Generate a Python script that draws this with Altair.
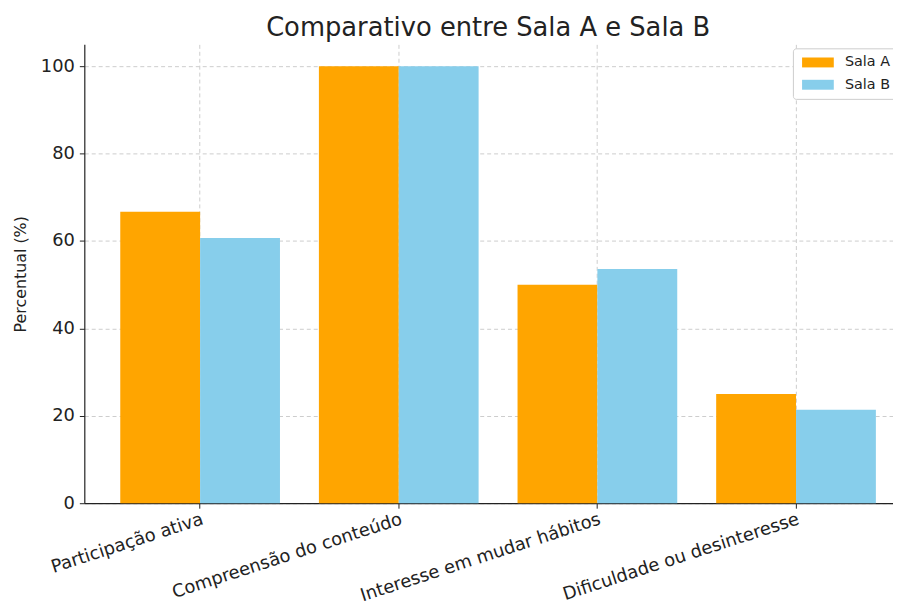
import altair as alt
import pandas as pd

categories = ["Participação ativa", "Compreensão do conteúdo", "Interesse em mudar hábitos", "Dificuldade ou desinteresse"]
groups = ["Sala A", "Sala B"]
sala_a = [66.7, 100, 50, 25]
sala_b = [60.7, 100, 53.6, 21.4]
colors = ["#FFA500", "#87CEEB"]

rows = []
for c, a, b in zip(categories, sala_a, sala_b):
    rows.append({"Categoria": c, "Grupo": "Sala A", "Percentual": a})
    rows.append({"Categoria": c, "Grupo": "Sala B", "Percentual": b})
df = pd.DataFrame(rows)

FONT = "DejaVu Sans"

chart = alt.Chart(df).mark_bar().encode(
    x=alt.X("Categoria:N", sort=categories,
            scale=alt.Scale(paddingInner=0.196, paddingOuter=0.181, range=[0, 835]),
            axis=alt.Axis(title=None, labelAngle=-18, labelAlign="right", labelBaseline="top",
                          labelFontSize=18, labelColor="#222", labelFont=FONT, labelLimit=0,
                          labelOverlap=False,
                          grid=True, gridDash=[4, 3], gridColor="#cccccc",
                          domainColor="#222", tickColor="#222", tickSize=5, labelPadding=2)),
    xOffset=alt.XOffset("Grupo:N", sort=groups),
    y=alt.Y("Percentual:Q", scale=alt.Scale(domain=[0, 105], nice=False),
            axis=alt.Axis(title="Percentual (%)", values=[0, 20, 40, 60, 80, 100],
                          labelFontSize=18, labelColor="#222", labelFont=FONT,
                          titleFontSize=16, titleFontWeight="normal", titleColor="#222", titleFont=FONT,
                          titlePadding=12,
                          grid=True, gridDash=[4, 3], gridColor="#cccccc",
                          domainColor="#222", tickColor="#222", tickSize=5, labelPadding=5)),
    color=alt.Color("Grupo:N", sort=groups, scale=alt.Scale(domain=groups, range=colors),
                    legend=alt.Legend(title=None, orient="none", legendX=715, legendY=4,
                                      symbolType="M-3.2,-1H3.2V1H-3.2Z", symbolSize=100,
                                      symbolOffset=11,
                                      symbolStrokeWidth=0, symbolOpacity=1,
                                      labelFontSize=14.5, labelFont=FONT, labelColor="#222",
                                      fillColor="white", strokeColor="#cccccc", padding=7,
                                      cornerRadius=3, rowPadding=7.5, labelOffset=20)),
).properties(
    width=815, height=463,
    title=alt.Title("Comparativo entre Sala A e Sala B", fontSize=26, font=FONT,
                    fontWeight="normal", color="#222", anchor="middle", offset=3),
    autosize=alt.AutoSizeParams(type="none"),
    padding={"left": 77, "top": 34, "right": 1, "bottom": 100},
).configure_view(stroke=None).configure_axisX(domainWidth=1.2).configure_axisY(domainWidth=1.2)

chart.save("out.html", embed_options={"renderer": "svg", "actions": False})
